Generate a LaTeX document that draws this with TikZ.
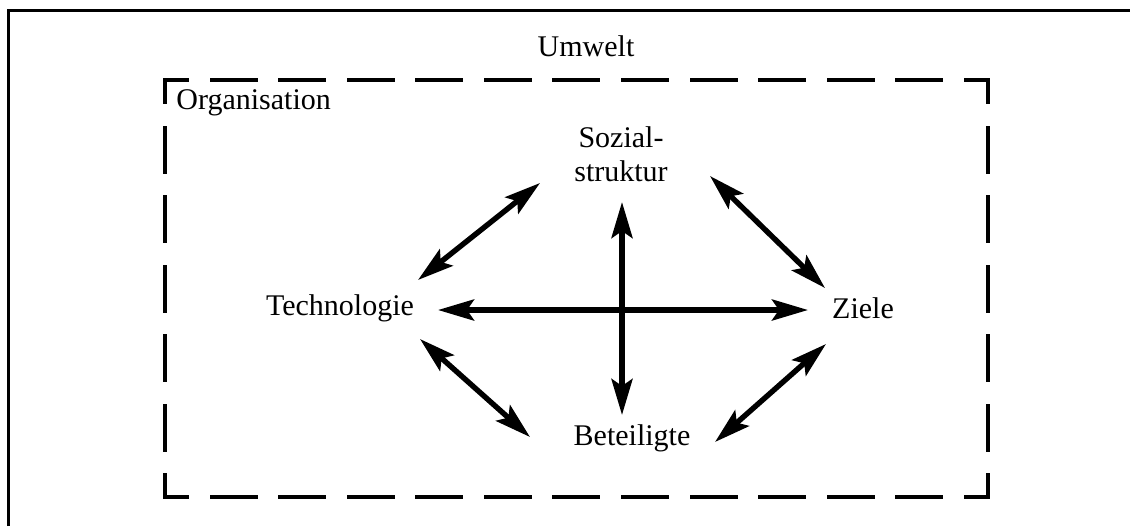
\documentclass[tikz,border=0pt]{standalone}
\usepackage{fontspec}
\setmainfont{Liberation Serif}
\usetikzlibrary{arrows.meta}

\tikzset{
  begriff/.style={font=\fontsize{15}{17}\selectfont, align=center, inner sep=0pt},
  pfeil/.style={{Stealth[length=18pt, width=10.5pt, inset=3.5pt]}-{Stealth[length=18pt, width=10.5pt, inset=3.5pt]}, line width=2.7pt},
  rahmen/.style={line width=2pt, line cap=rect, dash phase=11pt}
}

\begin{document}
\begin{tikzpicture}[x=0.5pt, y=-0.5pt]
  \useasboundingbox (0,0) rectangle (1130,526);
  % aeusserer Rahmen (Umwelt)
  \draw[line width=1.5pt] (8,526) -- (8,10) -- (1130,10);
  % Organisation, gestrichelt, Seite fuer Seite
  \draw[rahmen, dash pattern=on 22pt off 12.29pt] (165,80) -- (988,80);
  \draw[rahmen, dash pattern=on 22pt off 12.29pt] (165,497) -- (988,497);
  \draw[rahmen, dash pattern=on 22pt off 12.75pt] (165,80) -- (165,497);
  \draw[rahmen, dash pattern=on 22pt off 12.75pt] (988,80) -- (988,497);
  \node[begriff] (umwelt) at (586,46) {Umwelt};
  \node[begriff, anchor=west] (org) at (176,103) {Organisation};
  \node[begriff] (sozial) at (621,154) {Sozial-\\struktur};
  \node[begriff] (tech) at (340,308) {Technologie};
  \node[begriff] (ziele) at (863,308) {Ziele};
  \node[begriff] (beteil) at (632,438) {Beteiligte};
  % Pfeile zwischen den Elementen
  \draw[pfeil] ([shift={(78,-28)}]tech.center) -- ([shift={(-81,29)}]sozial.center);
  \draw[pfeil] ([shift={(89,22)}]sozial.center) -- ([shift={(-38,-20)}]ziele.center);
  \draw[pfeil] ([shift={(80,31)}]tech.center) -- ([shift={(-102,-1)}]beteil.center);
  \draw[pfeil] ([shift={(-37,36)}]ziele.center) -- ([shift={(83,4)}]beteil.center);
  \draw[pfeil] ([shift={(98,2)}]tech.center) -- ([shift={(-55,2)}]ziele.center);
  \draw[pfeil] ([shift={(1,48)}]sozial.center) -- ([shift={(-10,-23)}]beteil.center);
\end{tikzpicture}
\end{document}
